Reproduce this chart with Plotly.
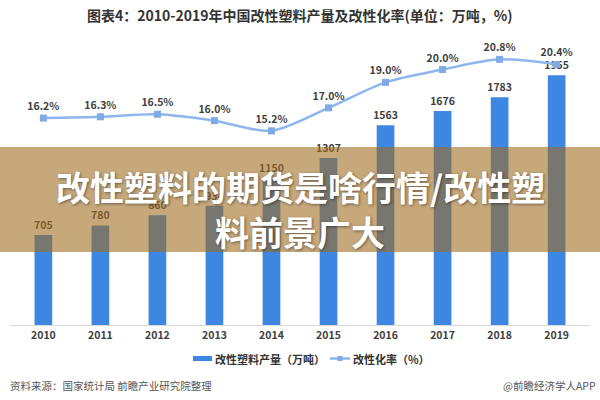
import plotly.graph_objects as go

years = ["2010", "2011", "2012", "2013", "2014", "2015", "2016", "2017", "2018", "2019"]
output = [705, 780, 860, 934, 1150, 1307, 1563, 1676, 1783, 1955]
rate = [16.2, 16.3, 16.5, 16.0, 15.2, 17.0, 19.0, 20.0, 20.8, 20.4]

title_text = "图表4：2010-2019年中国改性塑料产量及改性化率(单位：万吨，%)"
legend_bar = "改性塑料产量（万吨）"
legend_line = "改性化率（%）"
source_text = "资料来源：国家统计局 前瞻产业研究院整理"
brand_text = "@前瞻经济学人APP"
overlay_1 = "改性塑料的期货是啥行情/改性塑"
overlay_2 = "料前景广大"

W, H = 600, 400
ML, MR, MT, MB = 10, 10, 20, 75
PW, PH = W - ML - MR, H - MT - MB


def px(x):
    return (x - ML) / PW


def py(y):
    return (H - MB - y) / PH


CJK = "Noto Sans CJK SC"
YMAX = 2388

fig = go.Figure()
fig.add_trace(go.Bar(
    x=years, y=output, marker_color="#3D86E1", marker_line_width=0,
    text=[str(v) for v in output], textposition="outside", constraintext="none",
    textfont=dict(family=CJK, size=10.5, color="#404040", weight="bold"),
    cliponaxis=False, showlegend=False,
))
fig.add_trace(go.Scatter(
    x=years, y=rate, yaxis="y2", mode="lines+markers+text",
    line=dict(color="#8DB6EE", width=2.5, shape="spline", smoothing=0.8),
    marker=dict(symbol="square", size=7, color="#7FAAE6"),
    text=[f"{v:.1f}%" for v in rate], textposition="top center",
    textfont=dict(family=CJK, size=10.5, color="#404040", weight="bold"),
    cliponaxis=False, showlegend=False,
))

shapes = [
    dict(type="rect", xref="paper", yref="paper", x0=px(0), x1=px(600),
         y0=py(252), y1=py(147), fillcolor="rgba(160,110,35,0.6)",
         line_width=0, layer="above"),
    dict(type="rect", xref="paper", yref="paper", x0=px(193), x1=px(212),
         y0=py(361), y1=py(356), fillcolor="#3D86E1", line_width=0),
    dict(type="line", xref="paper", yref="paper", x0=px(330), x1=px(350),
         y0=py(358.5), y1=py(358.5), line=dict(color="#8DB6EE", width=2.5)),
    dict(type="rect", xref="paper", yref="paper", x0=px(337.5), x1=px(342.5),
         y0=py(361), y1=py(356), fillcolor="#7FAAE6", line_width=0),
]

annotations = [
    dict(text=title_text, xref="paper", yref="paper", x=px(300), y=py(15),
         xanchor="center", yanchor="middle", showarrow=False,
         font=dict(family=CJK, size=14, color="#333333", weight="bold")),
    dict(text=legend_bar, xref="paper", yref="paper", x=px(213), y=py(358.5),
         xanchor="left", yanchor="middle", showarrow=False,
         font=dict(family=CJK, size=11, color="#333333", weight="bold")),
    dict(text=legend_line, xref="paper", yref="paper", x=px(351), y=py(358.5),
         xanchor="left", yanchor="middle", showarrow=False,
         font=dict(family=CJK, size=11, color="#333333", weight="bold")),
    dict(text=source_text, xref="paper", yref="paper", x=px(8), y=py(385),
         xanchor="left", yanchor="middle", showarrow=False,
         font=dict(family=CJK, size=10.5, color="#555555")),
    dict(text=brand_text, xref="paper", yref="paper", x=px(598), y=py(385),
         xanchor="right", yanchor="middle", showarrow=False,
         font=dict(family=CJK, size=10.5, color="#555555")),
    dict(text=overlay_1, xref="paper", yref="paper", x=px(300), y=py(186),
         xanchor="center", yanchor="middle", showarrow=False,
         font=dict(family=CJK, size=34, color="white", weight="bold",
                   shadow="1px 1px 3px rgba(0,0,0,0.45)")),
    dict(text=overlay_2, xref="paper", yref="paper", x=px(300), y=py(231),
         xanchor="center", yanchor="middle", showarrow=False,
         font=dict(family=CJK, size=34, color="white", weight="bold",
                   shadow="1px 1px 3px rgba(0,0,0,0.45)")),
]

fig.update_layout(
    width=W, height=H, margin=dict(l=ML, r=MR, t=MT, b=MB),
    paper_bgcolor="white", plot_bgcolor="white",
    bargap=0.69, showlegend=False,
    xaxis=dict(type="category", showgrid=False, showline=True,
               linecolor="#D9D9D9", linewidth=1, ticks="",
               tickfont=dict(family=CJK, size=10.5, color="#404040", weight="bold")),
    yaxis=dict(range=[0, YMAX], visible=False, showgrid=False),
    yaxis2=dict(range=[0, YMAX / 100], overlaying="y", side="right",
                visible=False, showgrid=False),
    shapes=shapes, annotations=annotations,
)

fig.write_html("out.html")
